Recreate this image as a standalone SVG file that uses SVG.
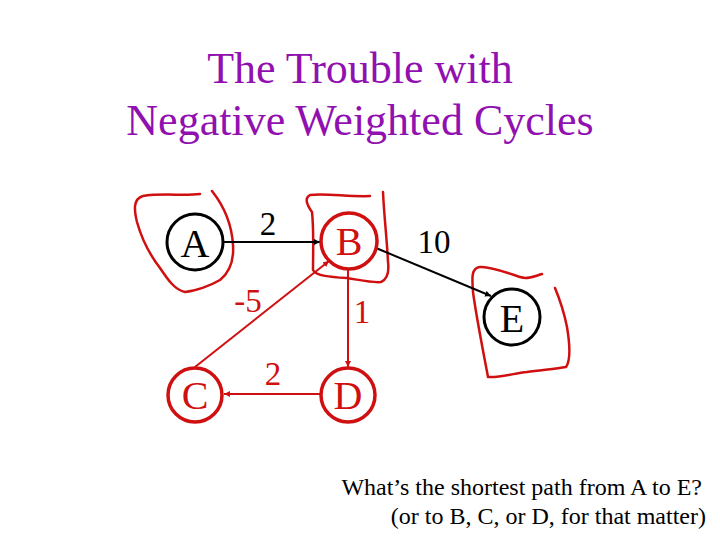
<svg xmlns="http://www.w3.org/2000/svg" width="720" height="540" viewBox="0 0 720 540">
<style>
.title{font-family:"Liberation Serif","Times New Roman",serif;font-size:44px;fill:#9010b0;text-anchor:middle}
.lbl{font-family:"Liberation Serif","Times New Roman",serif;font-size:40px;text-anchor:middle}
.w{font-family:"Liberation Serif","Times New Roman",serif;font-size:33px;text-anchor:middle}
.q{font-family:"Liberation Serif","Times New Roman",serif;font-size:24px;fill:#000;text-anchor:end}
.blk{fill:#fff;stroke:#000;stroke-width:3}
.red{fill:#fff;stroke:#d01010;stroke-width:3.5}
.eb{stroke:#000;stroke-width:2;fill:none}
.er{stroke:#d01010;stroke-width:2;fill:none}
.hand{stroke:#d01010;stroke-width:2.5;fill:none;stroke-linecap:round;stroke-linejoin:round}
</style>
<defs>
<marker id="ab" viewBox="0 0 10 10" refX="10" refY="5" markerWidth="6" markerHeight="6" markerUnits="userSpaceOnUse" orient="auto"><path d="M0,0L10,5L0,10z" fill="#000"/></marker>
<marker id="ar" viewBox="0 0 10 10" refX="10" refY="5" markerWidth="6" markerHeight="6" markerUnits="userSpaceOnUse" orient="auto"><path d="M0,0L10,5L0,10z" fill="#d01010"/></marker>
</defs>
<rect width="720" height="540" fill="#fff"/>
<text class="title" x="360" y="83">The Trouble with</text>
<text class="title" x="360" y="135">Negative Weighted Cycles</text>
<g id="hand-marks">
<path class="hand" d="M200,194 C185,196 160,193 143,196 C133,199 134,210 137,222 C142,240 150,255 160,268 C168,280 175,290 185,292 C195,291 210,286 220,280 C230,272 234,260 233,245 C232,228 227,210 212,191"/>
<path class="hand" d="M370,196 C350,197 325,193 310,195 C304,198 307,205 312,212 C314,230 313,255 313,270 C316,276 330,277 347,278 C360,280 372,283 381,282 C388,279 389,270 388,262 C387,240 384,215 383,192"/>
<path class="hand" d="M542,274 C535,276 528,280 520,277 C508,273 490,266 480,267 C471,268 472,278 473,292 C476,315 482,345 488,377 C500,378 515,373 527,372 C540,370 555,369 566,367 C571,360 570,345 567,327 C564,312 560,300 555,288"/>
</g>
<g id="connectors">
<line class="eb" x1="223" y1="242" x2="320" y2="242" marker-end="url(#ab)"/>
<line class="eb" x1="376" y1="248" x2="491" y2="296" marker-end="url(#ab)"/>
<line class="er" x1="195" y1="367" x2="329" y2="261" marker-end="url(#ar)"/>
<line class="er" x1="348" y1="269" x2="348" y2="367" marker-end="url(#ar)"/>
<line class="er" x1="320" y1="394" x2="224" y2="394" marker-end="url(#ar)"/>
<text class="w" x="268" y="235" fill="#000">2</text>
<text class="w" x="434" y="253" fill="#000">10</text>
<text class="w" x="248" y="312" fill="#d01010">-5</text>
<text class="w" x="362" y="323" fill="#d01010">1</text>
<text class="w" x="273" y="385" fill="#d01010">2</text>
</g>
<g id="node-A"><circle class="blk" cx="195" cy="242" r="28"/><text class="lbl" x="195" y="257" fill="#000">A</text></g>
<g id="node-B"><circle class="red" cx="349" cy="241" r="28"/><text class="lbl" x="349" y="255" fill="#d01010">B</text></g>
<g id="node-E"><circle class="blk" cx="512" cy="317" r="28"/><text class="lbl" x="512" y="332" fill="#000">E</text></g>
<g id="node-C"><circle class="red" cx="195" cy="395" r="27"/><text class="lbl" x="195" y="409" fill="#d01010">C</text></g>
<g id="node-D"><circle class="red" cx="348" cy="395" r="27"/><text class="lbl" x="348" y="409" fill="#d01010">D</text></g>
<text class="q" x="702" y="495">What’s the shortest path from A to E?</text>
<text class="q" x="706" y="524">(or to B, C, or D, for that matter)</text>
</svg>
